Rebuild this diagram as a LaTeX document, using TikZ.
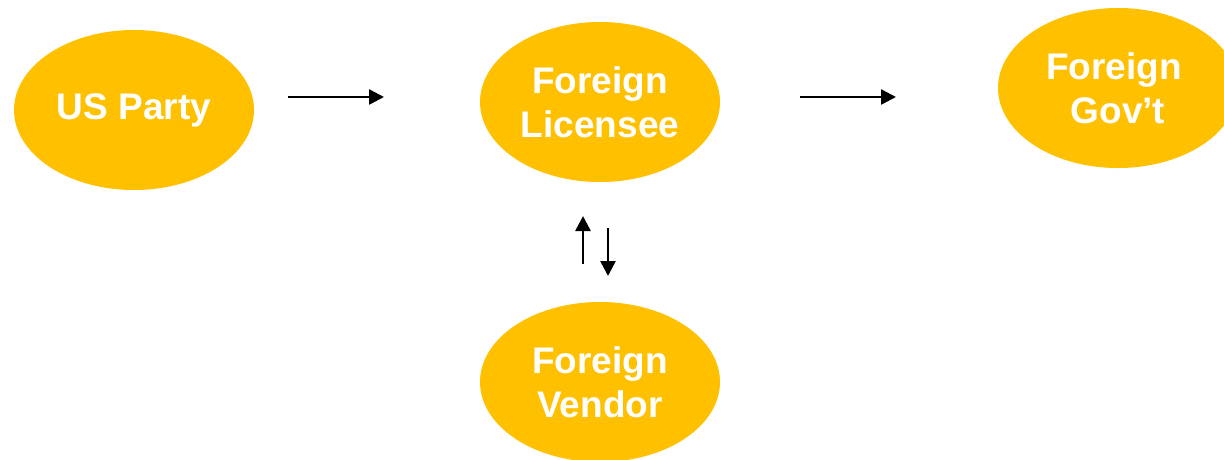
\documentclass[tikz,border=0pt]{standalone}
\usepackage{fontspec}
\setmainfont{Liberation Sans}
\usetikzlibrary{shapes.geometric,arrows.meta}
\definecolor{gold}{HTML}{FFC000}
\tikzset{
  party/.style={ellipse, fill=gold, draw=none, minimum width=240pt, minimum height=160pt, inner sep=0pt,
    text=white, font=\fontsize{37}{44}\selectfont\bfseries, align=center},
  flow/.style={line width=2.5pt, -{Triangle[length=15pt,width=15pt]}}
}
\begin{document}
\begin{tikzpicture}[x=1pt,y=-1pt]
\useasboundingbox (0,0) rectangle (1224,459);
\clip (0,0) rectangle (1224,459);
\node[party] (us) at (134,110) {\raisebox{5pt}{US Party}};
\node[party] (lic) at (600,102) {Foreign\\Licensee};
\node[party] (gov) at (1118,88) {\hspace*{-8pt}Foreign\\Gov't};
\node[party] (ven) at (600,382) {Foreign\\Vendor};
\coordinate (a1s) at (288,97);
\coordinate (a1e) at (384,97);
\coordinate (a2s) at (800,97);
\coordinate (a2e) at (896,97);
\coordinate (ups) at (583,264);
\coordinate (upe) at (583,216);
\coordinate (dns) at (608,228);
\coordinate (dne) at (608,276);
\draw[flow] (a1s) -- (a1e);
\draw[flow] (a2s) -- (a2e);
\draw[flow] (ups) -- (upe);
\draw[flow] (dns) -- (dne);
\end{tikzpicture}
\end{document}
